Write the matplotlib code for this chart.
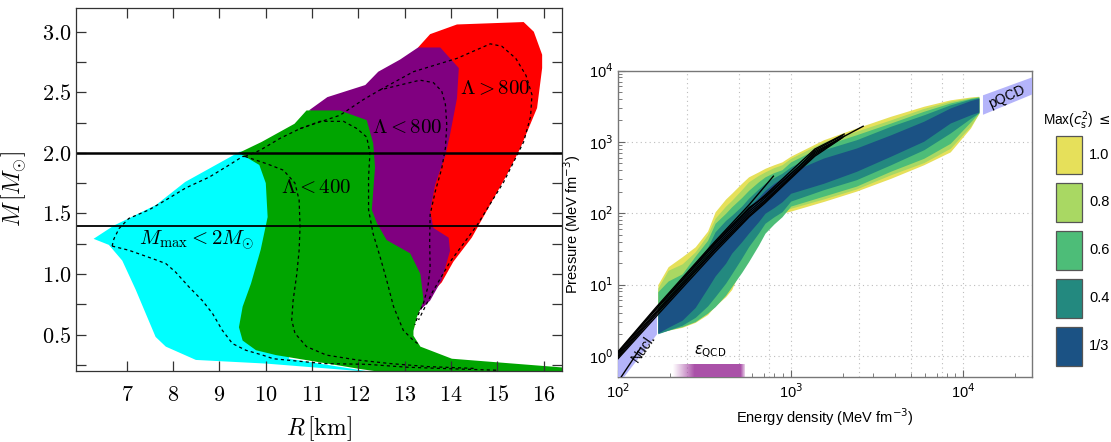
"""Mass-radius regions (left) and EoS bands with sound-speed bound (right)."""
import numpy as np
import matplotlib
matplotlib.use('Agg')
import matplotlib.pyplot as plt
from matplotlib.patches import Polygon, Rectangle

plt.rcParams['font.family'] = ['Liberation Sans', 'DejaVu Sans']
plt.rcParams['mathtext.fontset'] = 'cm'

# ---------------- left panel data (R in km, M in Msun) ----------------
env_R = [6.28, 6.72, 7.10, 7.63, 8.26, 9.44, 9.91, 10.62, 10.93, 11.33, 12.15, 12.43, 12.90, 13.29,
         13.55, 14.13, 15.57, 15.79, 15.97, 15.97, 15.86, 15.50, 15.21, 14.64, 14.45, 14.05, 13.80,
         13.55, 13.26, 13.19, 13.20]
env_M = [1.29, 1.40, 1.47, 1.57, 1.76, 2.01, 2.09, 2.24, 2.35, 2.46, 2.56, 2.67, 2.77, 2.87,
         2.98, 3.06, 3.08, 3.00, 2.81, 2.70, 2.37, 2.04, 1.82, 1.43, 1.30, 1.10, 0.93,
         0.83, 0.67, 0.59, 0.55]
cyan_low_R = [6.28, 6.61, 6.90, 7.19, 7.41, 7.62, 7.84, 8.49, 10.0, 12.3]
cyan_low_M = [1.29, 1.24, 1.11, 0.87, 0.67, 0.48, 0.40, 0.29, 0.26, 0.19]
green_left_R = [9.42, 9.86, 10.0, 10.04, 9.89, 9.68, 9.50, 9.42, 9.50, 9.79, 10.22, 10.38, 12.04, 12.5]
green_left_M = [2.00, 1.90, 1.75, 1.47, 1.20, 0.92, 0.73, 0.56, 0.45, 0.37, 0.33, 0.32, 0.215, 0.19]
green_right_R = [10.88, 11.60, 12.18, 12.32, 12.36, 12.29, 12.40, 12.61, 13.12, 13.34, 13.41, 13.26,
                 13.19, 13.19, 13.34, 14.02, 16.5]
green_right_M = [2.35, 2.35, 2.27, 2.08, 1.88, 1.53, 1.42, 1.28, 1.17, 1.00, 0.78, 0.64,
                 0.53, 0.49, 0.40, 0.30, 0.225]
purple_top_R = [10.93, 11.33, 12.15, 12.43, 12.90, 13.29, 13.77]
purple_top_M = [2.35, 2.46, 2.56, 2.67, 2.77, 2.87, 2.87]
red_left_R = [14.17, 14.13, 13.98, 13.88, 13.66, 13.55, 13.62, 13.95, 13.98, 13.80, 13.55, 13.33, 13.26]
red_left_M = [2.70, 2.45, 2.15, 1.98, 1.74, 1.52, 1.38, 1.30, 1.19, 0.95, 0.78, 0.70, 0.66]

# dashed contours
c1_up_R = [6.68, 6.72, 6.83, 7.04, 7.48, 7.84, 8.27, 8.78, 9.21, 9.50, 9.55]
c1_up_M = [1.23, 1.29, 1.375, 1.458, 1.53, 1.61, 1.71, 1.80, 1.90, 1.97, 1.97]
c1_low_R = [6.68, 7.04, 7.55, 7.84, 8.05, 8.34, 8.63, 8.85, 9.06, 9.28, 9.57, 9.93, 10.16, 11.24,
            12.18, 13.05, 13.77, 15.0]
c1_low_M = [1.23, 1.196, 1.127, 1.086, 1.016, 0.893, 0.78, 0.673, 0.535, 0.425, 0.37, 0.33, 0.30,
            0.26, 0.254, 0.23, 0.22, 0.205]
c1_in_R = [9.55, 10.02, 10.38, 10.63, 10.72, 10.74, 10.72, 10.67, 10.59, 10.56, 10.63, 10.88, 11.31,
           11.97, 12.69, 13.5, 14.5]
c1_in_M = [1.97, 1.91, 1.857, 1.75, 1.61, 1.39, 1.196, 1.0, 0.78, 0.62, 0.51, 0.40, 0.33,
           0.29, 0.26, 0.235, 0.22]
c2_R = [9.55, 9.87, 10.31, 10.74, 11.17, 11.68, 11.97, 12.18, 12.25, 12.22, 12.22, 12.32, 12.47,
        12.61, 12.76, 12.97, 13.19, 13.30]
c2_M = [1.97, 2.02, 2.12, 2.20, 2.26, 2.26, 2.20, 2.13, 2.00, 1.80, 1.53, 1.33, 1.14,
        0.95, 0.73, 0.535, 0.45, 0.42]
c3_R = [10.74, 11.6, 12.11, 12.47, 12.90, 13.33, 13.62, 13.80, 13.88, 13.91, 13.88, 13.80, 13.66,
        13.55, 13.54, 13.55, 13.50, 13.40, 13.30, 13.22]
c3_M = [2.20, 2.31, 2.44, 2.52, 2.56, 2.60, 2.58, 2.51, 2.40, 2.23, 2.04, 1.87, 1.68,
        1.49, 1.27, 1.05, 0.89, 0.75, 0.67, 0.58]
c4_R = [12.47, 13.19, 14.13, 14.85, 15.10, 15.40, 15.62, 15.75, 15.72, 15.57, 15.14, 14.56,
        13.98, 13.60, 13.30]
c4_M = [2.52, 2.67, 2.78, 2.90, 2.88, 2.78, 2.64, 2.48, 2.30, 2.09, 1.76, 1.40,
        1.10, 0.85, 0.62]

# ---------------- right panel data (log10 values, MeV fm^-3) ----------------
eps = [170, 195, 235, 280, 330, 365, 420, 455, 520, 570, 650, 710, 800, 890, 1000,
       1550, 2400, 3800, 5900, 8400, 11000, 12300]
y_up = [1.00, 1.25, 1.39, 1.53, 1.75, 2.02, 2.20, 2.28, 2.42, 2.51, 2.58, 2.63, 2.68, 2.72, 2.80,
        3.03, 3.195, 3.36, 3.50, 3.59, 3.63, 3.64]
y_lo = [0.33, 0.36, 0.40, 0.47, 0.58, 0.70, 0.83, 0.93, 1.25, 1.44, 1.90, 1.98, 1.99, 2.00, 2.03,
        2.165, 2.31, 2.49, 2.68, 2.86, 3.195, 3.40]
lg_up = [0.95, 1.20, 1.29, 1.46, 1.70, 1.93, 2.10, 2.18, 2.33, 2.44, 2.53, 2.58, 2.64, 2.68, 2.77,
         3.00, 3.15, 3.31, 3.47, 3.57, 3.62, 3.635]
lg_lo = [0.33, 0.37, 0.43, 0.50, 0.60, 0.75, 0.90, 1.00, 1.32, 1.55, 1.95, 2.00, 2.01, 2.03, 2.07,
         2.20, 2.34, 2.54, 2.71, 2.91, 3.22, 3.40]
g_up = [0.90, 1.05, 1.15, 1.40, 1.62, 1.86, 2.00, 2.09, 2.22, 2.32, 2.44, 2.51, 2.57, 2.61, 2.72,
        2.95, 3.10, 3.265, 3.43, 3.546, 3.61, 3.63]
g_lo = [0.32, 0.36, 0.41, 0.48, 0.60, 0.69, 0.85, 0.97, 1.17, 1.32, 1.55, 1.72, 1.85, 1.95, 2.10,
        2.24, 2.38, 2.59, 2.77, 2.98, 3.28, 3.41]
t_up = [0.62, 0.88, 1.06, 1.30, 1.52, 1.74, 1.90, 1.97, 2.10, 2.21, 2.34, 2.42, 2.50, 2.56, 2.65,
        2.89, 3.03, 3.22, 3.38, 3.52, 3.60, 3.62]
t_lo = [0.31, 0.36, 0.43, 0.54, 0.70, 0.83, 1.02, 1.15, 1.37, 1.53, 1.72, 1.86, 1.95, 2.02, 2.17,
        2.33, 2.47, 2.68, 2.89, 3.125, 3.33, 3.41]
b_up = [0.57, 0.80, 0.99, 1.17, 1.40, 1.62, 1.78, 1.86, 1.98, 2.09, 2.22, 2.32, 2.42, 2.49, 2.58,
        2.774, 2.914, 3.10, 3.29, 3.476, 3.58, 3.61]
b_lo = [0.32, 0.40, 0.50, 0.68, 0.95, 1.12, 1.30, 1.44, 1.60, 1.72, 1.88, 2.00, 2.08, 2.16, 2.28,
        2.42, 2.587, 2.80, 3.01, 3.265, 3.38, 3.42]

# black EoS lines (log10 eps, log10 P)
lines_eps = [
    [2.0, 2.22, 2.56, 2.76, 2.90],
    [2.0, 2.22, 2.56, 2.76, 2.85, 3.05, 3.14, 3.31],
    [2.0, 2.22, 2.56, 2.76, 2.85, 3.05, 3.14, 3.31],
    [2.0, 2.22, 2.56, 2.76, 2.85, 3.05, 3.14, 3.30],
    [2.0, 2.22, 2.56, 2.76, 2.85, 3.05, 3.14, 3.29],
    [2.0, 2.22, 2.56, 2.76, 2.85, 3.05, 3.14, 3.42],
    [2.0, 2.22, 2.56, 2.76, 2.85, 3.05, 3.14, 3.30],
    [2.017, 2.13],
]
lines_p = [
    [0.06, 0.68, 1.60, 2.12, 2.52],
    [0.04, 0.65, 1.56, 2.06, 2.25, 2.70, 2.90, 3.11],
    [0.00, 0.60, 1.50, 2.00, 2.18, 2.63, 2.84, 3.08],
    [-0.04, 0.55, 1.45, 1.95, 2.14, 2.60, 2.80, 3.06],
    [-0.02, 0.58, 1.48, 1.97, 2.16, 2.61, 2.82, 3.05],
    [0.02, 0.62, 1.53, 2.03, 2.21, 2.66, 2.86, 3.22],
    [0.05, 0.66, 1.58, 2.08, 2.23, 2.66, 2.88, 3.09],
    [-0.30, 0.11],
]
nucl_eps = [100, 100, 168, 168, 108]
nucl_p = [0.5, 1.1, 3.9, 2.0, 0.5]
pqcd_eps = [13000, 13000, 26000, 26000]
pqcd_p = [2400, 4500, 8300, 4800]
qcd_range = [205, 250, 490, 550]   # fade-in start, solid start, solid end, fade-out end

legend_labels = ['1.0', '0.8', '0.6', '0.4', '1/3']
band_colors = ['#e6e05a', '#a9d863', '#4dbd78', '#23897f', '#1b5284']

fig = plt.figure(figsize=(11.11, 4.42), dpi=100)

# ================= left panel =================
ax = fig.add_axes([0.0684, 0.161, 0.4375, 0.822])
red_poly = list(zip(env_R[13:], env_M[13:])) + [(13.4, 1.0), (13.6, 2.0)]
ax.add_patch(Polygon(red_poly, closed=True, fc='#ff0000', ec='none'))
purple_poly = list(zip(purple_top_R, purple_top_M)) + list(zip(red_left_R, red_left_M)) + \
    [(13.0, 0.7), (12.0, 1.5), (11.5, 2.3)]
ax.add_patch(Polygon(purple_poly, closed=True, fc='#800080', ec='none'))
cyan_poly = list(zip(env_R[:6], env_M[:6])) + [(10.5, 2.0), (10.5, 0.3)] + \
    list(zip(cyan_low_R[::-1], cyan_low_M[::-1]))
ax.add_patch(Polygon(cyan_poly, closed=True, fc='#00ffff', ec='none'))
green_poly = [(9.42, 2.0)] + list(zip(env_R[6:8], env_M[6:8])) + \
    list(zip(green_right_R, green_right_M)) + [(16.5, 0.1), (12.5, 0.1)] + \
    list(zip(green_left_R[::-1], green_left_M[::-1]))
ax.add_patch(Polygon(green_poly, closed=True, fc='#00a500', ec='none'))

for xs, ys in [(c1_up_R, c1_up_M), (c1_low_R, c1_low_M), (c1_in_R, c1_in_M),
               (c2_R, c2_M), (c3_R, c3_M), (c4_R, c4_M)]:
    ax.plot(xs, ys, color='k', lw=0.9, ls=(0, (2.5, 2.5)))

ax.axhline(2.0, color='k', lw=1.8)
ax.axhline(1.4, color='k', lw=1.3)

ax.text(14.95, 2.53, r'$\mathbf{\Lambda} > \mathbf{800}$', fontsize=15, ha='center', va='center')
ax.text(13.06, 2.21, r'$\mathbf{\Lambda} < \mathbf{800}$', fontsize=15, ha='center', va='center')
ax.text(11.09, 1.71, r'$\mathbf{\Lambda} < \mathbf{400}$', fontsize=15, ha='center', va='center')
ax.text(8.51, 1.28, r'$M_{\mathrm{max}} < \mathbf{2}M_{\odot}$', fontsize=15, ha='center', va='center')

ax.set_xlim(5.9, 16.4)
ax.set_ylim(0.2, 3.2)
ax.set_xticks(range(7, 17), ['$%d$' % v for v in range(7, 17)])
ax.set_yticks([0.5, 1.0, 1.5, 2.0, 2.5, 3.0], ['$0.5$', '$1.0$', '$1.5$', '$2.0$', '$2.5$', '$3.0$'])
ax.set_yticks(np.arange(0.25, 3.2, 0.5), minor=True)
ax.tick_params(which='both', direction='in', top=True, right=True, length=7, width=0.9,
               labelsize=16, color='#333333')
ax.tick_params(axis='x', pad=10)
ax.set_xlabel(r'$R\,[\mathrm{km}]$', fontsize=17, labelpad=6)
ax.set_ylabel(r'$M\,[M_{\odot}]$', fontsize=17, labelpad=10)
for s in ax.spines.values():
    s.set_color('#333333')
    s.set_linewidth(0.9)

# ================= right panel =================
bx = fig.add_axes([0.5563, 0.1463, 0.3726, 0.694])
bx.set_xscale('log')
bx.set_yscale('log')
for up, lo, c in [(y_up, y_lo, band_colors[0]), (lg_up, lg_lo, band_colors[1]),
                  (g_up, g_lo, band_colors[2]), (t_up, t_lo, band_colors[3]),
                  (b_up, b_lo, band_colors[4])]:
    bx.fill_between(eps, 10 ** np.array(lo), 10 ** np.array(up), color=c, lw=0, zorder=2)

bx.add_patch(Polygon(list(zip(nucl_eps, nucl_p)), closed=True, fc='#b4b4fa', ec='none', zorder=3))
bx.add_patch(Polygon(list(zip(pqcd_eps, pqcd_p)), closed=True, fc='#b4b4fa', ec='none', zorder=3))

for le, lp in zip(lines_eps, lines_p):
    bx.plot(10 ** np.array(le), 10 ** np.array(lp), color='k', lw=1.0, zorder=4)

# eps_QCD bar with faded ends
lx = np.linspace(np.log10(qcd_range[0]), np.log10(qcd_range[3]), 200)
alpha = np.interp(lx, np.log10(qcd_range), [0, 1, 1, 0])
img = np.zeros((1, lx.size, 4))
img[..., 0], img[..., 1], img[..., 2] = 0.67, 0.32, 0.66
img[0, :, 3] = alpha
bx.imshow(img, extent=(qcd_range[0], qcd_range[3], 0.5, 0.78), aspect='auto', zorder=3,
          interpolation='bilinear')
bx.text(340, 0.88, r'$\varepsilon_{\mathrm{QCD}}$', fontsize=10.5, ha='center', va='bottom',
        math_fontfamily='dejavusans')

bx.text(140, 1.3, 'Nucl.', rotation=55, fontsize=10, ha='center', va='center', zorder=5)
bx.text(17800, 4300, 'pQCD', rotation=24, fontsize=10, ha='center', va='center', zorder=5)

bx.set_xlim(100, 25000)
bx.set_ylim(0.5, 1e4)
for v in [250, 500, 750, 1000, 2500, 5000, 7500, 10000]:
    bx.axvline(v, color='#bdbdbd', lw=0.8, ls=(0, (1, 3)), zorder=1)
for v in [1, 10, 100, 1000]:
    bx.axhline(v, color='#bdbdbd', lw=0.8, ls=(0, (1, 3)), zorder=1)

bx.set_xticks([1e2, 1e3, 1e4], ['10$^{2}$', '10$^{3}$', '10$^{4}$'], math_fontfamily='dejavusans')
bx.set_yticks([1, 10, 100, 1000, 1e4], ['10$^{0}$', '10$^{1}$', '10$^{2}$', '10$^{3}$', '10$^{4}$'],
              math_fontfamily='dejavusans')
bx.tick_params(which='both', direction='in', labelsize=10.5, color='#666666')
bx.tick_params(which='major', length=5)
bx.tick_params(which='minor', length=3)
bx.set_xlabel('Energy density (MeV fm$^{-3}$)', fontsize=10.5, math_fontfamily='dejavusans')
bx.set_ylabel('Pressure (MeV fm$^{-3}$)', fontsize=10.5, math_fontfamily='dejavusans')
for s in bx.spines.values():
    s.set_color('#777777')
    s.set_linewidth(1.0)

# colour key
box_tops = [135.7, 183.0, 231.0, 279.0, 327.0]
for top, c, lab in zip(box_tops, band_colors, legend_labels):
    fig.add_artist(Rectangle((1056.4 / 1111, 1 - (top + 38.5) / 442), 26 / 1111, 38.5 / 442,
                             transform=fig.transFigure, fc=c, ec='#555555', lw=0.9))
    fig.text(1089 / 1111, 1 - (top + 19) / 442, lab, fontsize=10.5, va='center')
fig.text(1043 / 1111, 1 - 121 / 442, r'Max($c_{\mathrm{s}}^{2}$) $\leq$', fontsize=9.8, va='center',
         math_fontfamily='dejavusans')

fig.savefig('out.png', dpi=100)
